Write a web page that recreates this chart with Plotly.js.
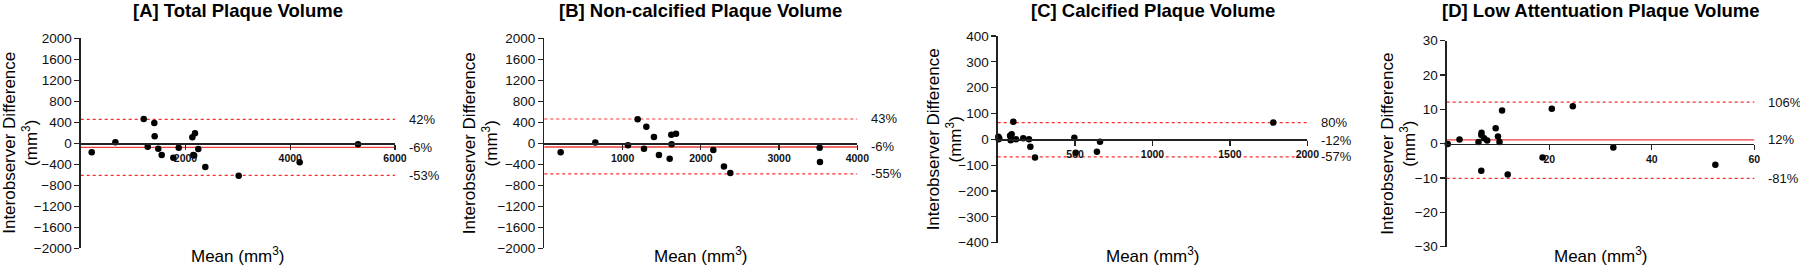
<!DOCTYPE html>
<html>
<head>
<meta charset="utf-8">
<script src="https://cdn.plot.ly/plotly-3.0.1.min.js"></script>
<style>html,body{margin:0;padding:0;background:#fff;}#chart{width:1800px;height:267px;}</style>
</head>
<body>
<div id="chart"></div>
<script>
// ---------- DATA ----------
const panelTitles = ['[A] Total Plaque Volume', '[B] Non-calcified Plaque Volume', '[C] Calcified Plaque Volume', '[D] Low Attentuation Plaque Volume'];

const meanA = [210, 662, 1203, 1279, 1405, 1412, 1481, 1546, 1768, 1871, 2131, 2182, 2150, 2165, 2245, 2379, 3016, 4180, 5294];
const diffA = [-171, 19, 463, -65, 387, 133, -103, -223, -274, -84, 114, 190, -223, -230, -109, -451, -617, -362, -19];
const limitsA = [457, -76, -612];
const pctA = ['42%', '-6%', '-53%'];

const meanB = [209, 652, 1069, 1193, 1274, 1304, 1401, 1465, 1602, 1623, 1627, 1683, 2160, 2296, 2377, 3519, 3523];
const diffB = [-171, 13, -38, 457, -102, 317, 121, -222, -292, 165, -19, 184, -127, -444, -565, -83, -356];
const limitsB = [463, -70, -584];
const pctB = ['43%', '-6%', '-55%'];

const meanC = [4, 6, 10, 80, 84, 90, 101, 118, 165, 202, 211, 241, 495, 504, 641, 661, 1780];
const diffC = [10, 0, 4, 14, -3, 20, 68, 0, 4, 0, -29, -70, 6, -52, -48, -9, 65];
const limitsC = [65, -4, -68];
const pctC = ['80%', '-12%', '-57%'];

const meanD = [0.2, 2.5, 6.2, 6.8, 6.75, 6.75, 7.3, 7.9, 9.55, 10.0, 10.3, 10.8, 11.9, 18.7, 20.5, 24.6, 32.5, 52.4];
const diffD = [-0.1, 1.25, 0.5, 3.2, 2.5, -7.9, 1.6, 0.9, 4.5, 2.1, 0.5, 9.7, -9.0, -4.0, 10.2, 10.9, -1.1, -6.1];
const limitsD = [12.1, 1.1, -10.1];
const pctD = ['106%', '12%', '-81%'];

const xRanges = [[0, 6000], [0, 4000], [0, 2000], [0, 60]];
const xTicks = [[2000, 4000, 6000], [1000, 2000, 3000, 4000], [500, 1000, 1500, 2000], [20, 40, 60]];
const yRanges = [[-2000, 2000], [-2000, 2000], [-400, 400], [-30, 30]];
const yDticks = [400, 400, 100, 10];

// ---------- LAYOUT (pixel geometry) ----------
const W = 1800, H = 267;
const boxes = [
  {l: 80.7, r: 395, t: 38.3, b: 248.3, yt: 20.5},
  {l: 544.3, r: 857.3, t: 38.3, b: 248.3, yt: 480},
  {l: 997.7, r: 1307.3, t: 36, b: 242.7, yt: 944},
  {l: 1446.7, r: 1754.3, t: 40.7, b: 246.7, yt: 1399}
];
const FONT = 'Liberation Sans, Arial, Helvetica, sans-serif';

const panels = [
  {mean: meanA, diff: diffA, lim: limitsA, pct: pctA},
  {mean: meanB, diff: diffB, lim: limitsB, pct: pctB},
  {mean: meanC, diff: diffC, lim: limitsC, pct: pctC},
  {mean: meanD, diff: diffD, lim: limitsD, pct: pctD}
];

const data = [];
const layout = {
  width: W, height: H,
  margin: {l: 0, r: 0, t: 0, b: 0},
  paper_bgcolor: '#fff', plot_bgcolor: 'rgba(0,0,0,0)',
  showlegend: false,
  font: {family: FONT, color: '#111'},
  shapes: [], annotations: []
};

panels.forEach((p, i) => {
  const n = i === 0 ? '' : String(i + 1);
  const bx = boxes[i];
  const xd = [bx.l / W, bx.r / W];
  const yd = [1 - bx.b / H, 1 - bx.t / H];
  const xa = 'x' + n, ya = 'y' + n;
  data.push({
    type: 'scatter', mode: 'markers', x: p.mean, y: p.diff,
    xaxis: xa, yaxis: ya, cliponaxis: false,
    marker: {color: '#000', size: 6.5}
  });
  const zeroPos = yd[0] + (yd[1] - yd[0]) * (0 - yRanges[i][0]) / (yRanges[i][1] - yRanges[i][0]);
  layout['xaxis' + n] = {
    domain: xd, range: xRanges[i], anchor: 'free', position: zeroPos,
    tickvals: xTicks[i], ticktext: xTicks[i].map(String),
    ticks: 'outside', ticklen: 5, tickwidth: 1.2, tickcolor: '#222',
    showline: true, linecolor: '#222', linewidth: 1.3,
    showgrid: false, zeroline: false, fixedrange: true,
    tickfont: {family: FONT, size: 10.5, color: '#111', weight: 'bold'},
    ticklabelstandoff: 0
  };
  layout['yaxis' + n] = {
    domain: yd, range: yRanges[i], anchor: xa, dtick: yDticks[i], tick0: 0,
    ticks: 'outside', ticklen: 5, tickwidth: 1.2, tickcolor: '#222',
    showline: true, linecolor: '#222', linewidth: 1.3,
    showgrid: false, zeroline: false, fixedrange: true,
    tickfont: {family: FONT, size: 13.5, color: '#111'}
  };
  // limit lines: upper, bias, lower
  p.lim.forEach((v, k) => {
    layout.shapes.push({
      type: 'line', xref: xa + ' domain', x0: 0, x1: 1, yref: ya, y0: v, y1: v,
      line: k === 1 ? {color: '#f03c3c', width: 1.3} : {color: '#ff2a2a', width: 1.2, dash: 'dot'},
      layer: 'below'
    });
    layout.annotations.push({
      xref: xa + ' domain', x: 1, xshift: 12, xanchor: 'left',
      yref: ya, y: v, yanchor: 'middle', showarrow: false,
      text: p.pct[k], font: {family: FONT, size: 13, color: '#111'}
    });
  });
  // panel title
  layout.annotations.push({
    xref: 'paper', x: (bx.l + bx.r) / 2 / W, xanchor: 'center',
    yref: 'paper', y: 1 - 10.5 / H, yanchor: 'middle', showarrow: false,
    text: '<b>' + panelTitles[i] + '</b>', font: {family: FONT, size: 18.5, color: '#000'}
  });
  // x title
  layout.annotations.push({
    xref: 'paper', x: (bx.l + bx.r) / 2 / W, xanchor: 'center',
    yref: 'paper', y: 1 - 255 / H, yanchor: 'middle', showarrow: false,
    text: 'Mean (mm<sup>3</sup>)', font: {family: FONT, size: 17, color: '#000'}
  });
  // y title
  layout.annotations.push({
    xref: 'paper', x: bx.yt / W, xanchor: 'center',
    yref: 'paper', y: 1 - ((bx.t + bx.b) / 2) / H, yanchor: 'middle', showarrow: false,
    textangle: -90,
    text: 'Interobserver Difference<br>(mm<sup>3</sup>)', font: {family: FONT, size: 17, color: '#000'}
  });
});

Plotly.newPlot('chart', data, layout, {staticPlot: true, displayModeBar: false});
</script>
</body>
</html>
